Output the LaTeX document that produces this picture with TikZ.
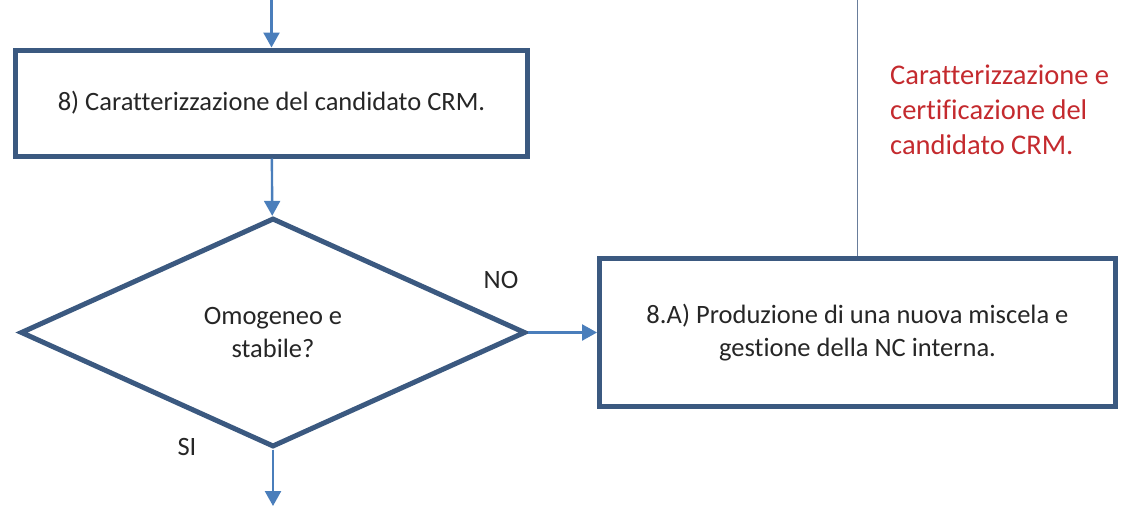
\documentclass[tikz,border=0pt]{standalone}
\usepackage{fontspec}
\setmainfont[Ligatures=NoCommon]{Carlito}
\usetikzlibrary{shapes.geometric,arrows.meta}
\definecolor{boxblue}{RGB}{59,89,128}
\definecolor{flowblue}{RGB}{74,126,187}
\definecolor{lineblue}{RGB}{105,125,155}
\definecolor{notered}{RGB}{196,42,46}
\begin{document}
\begin{tikzpicture}[x=1pt, y=-1pt,
                    line width=2.4pt,
                    font=\fontsize{26.5}{33}\selectfont,
                    text=black!85,
                    ]
    \tikzstyle{process}=[draw=boxblue,line width=5pt,align=center,inner sep=0pt]
    \tikzstyle{decision}=[process, diamond, minimum width=505pt, minimum height=229pt];
    \tikzstyle{flow}=[draw=flowblue, -{Triangle[width=16pt,length=15pt]}];
    \tikzstyle{answer}=[inner sep=0pt];
    \tikzstyle{note}=[inner sep=0pt, align=left, text=notered,
                      font=\fontsize{28.5}{35}\selectfont];

    \useasboundingbox (0,0) rectangle (1126,506);

    \node[process, minimum width=512pt, minimum height=106pt] (char) at (271.5,103)
        {8) Caratterizzazione del candidato CRM.};
    \node[decision] (check) at (273,332.5) {Omogeneo e\\stabile?};
    \node[process, minimum width=516pt, minimum height=148pt] (newmix) at (857.5,332.5)
        {8.A) Produzione di una nuova miscela e\\gestione della NC interna.};

    \node[answer] (no) at (501,280) {NO};
    \node[answer] (si) at (187,447) {SI};
    \node[note, anchor=west] (cert) at (889,110)
        {Caratterizzazione e\\certificazione del\\candidato CRM.};

    \coordinate (in) at (char.north |- 0,0);
    \coordinate (out) at (check.south |- 0,506);
    \coordinate (side) at (newmix.north |- 0,0);

    \path[flow] (in) -- (char);
    \path[flow] (char) -- (check);
    \path[flow] (check.east) -- (newmix);
    \path[flow] (check) -- (out);
    \path[draw=lineblue, line width=1.8pt] (side) -- (newmix);
\end{tikzpicture}
\end{document}
